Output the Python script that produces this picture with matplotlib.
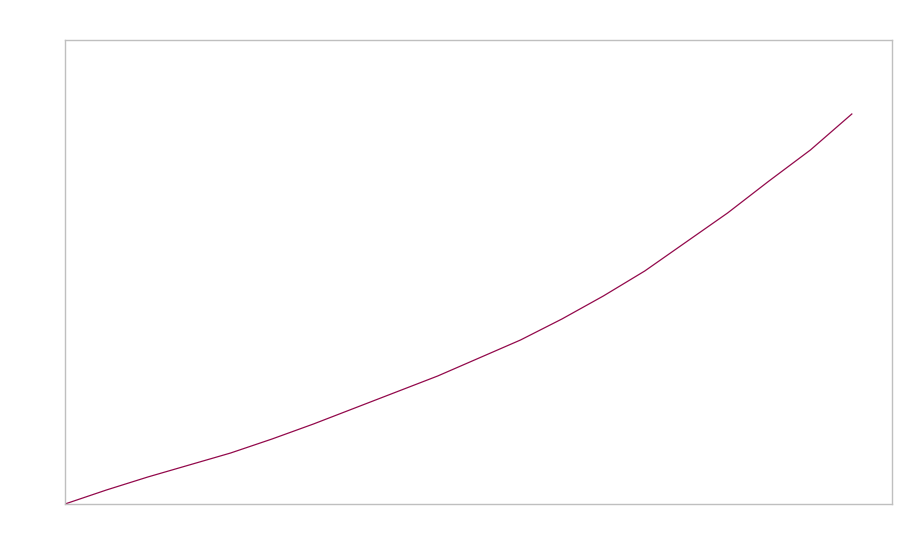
import matplotlib
matplotlib.use("Agg")
import matplotlib.pyplot as plt

# values (arbitrary units, no labels shown)
steps = list(range(20))
values = [0, 14, 27, 39, 51, 65, 80, 96, 112, 128,
          146, 164, 185, 208, 233, 262, 291, 323, 354, 390]

fig = plt.figure(figsize=(9, 5.6), dpi=100)
ax = fig.add_axes([0.0722, 0.1, 0.9189, 0.8286])

ax.plot(steps, values, color="#930a4c", linewidth=0.9)

ax.set_xlim(0, 19.97)
ax.set_ylim(0, 464)
ax.set_xticks([])
ax.set_yticks([])
for s in ax.spines.values():
    s.set_color("#bfbfbf")
    s.set_linewidth(1)

fig.savefig("out.png", dpi=100)
